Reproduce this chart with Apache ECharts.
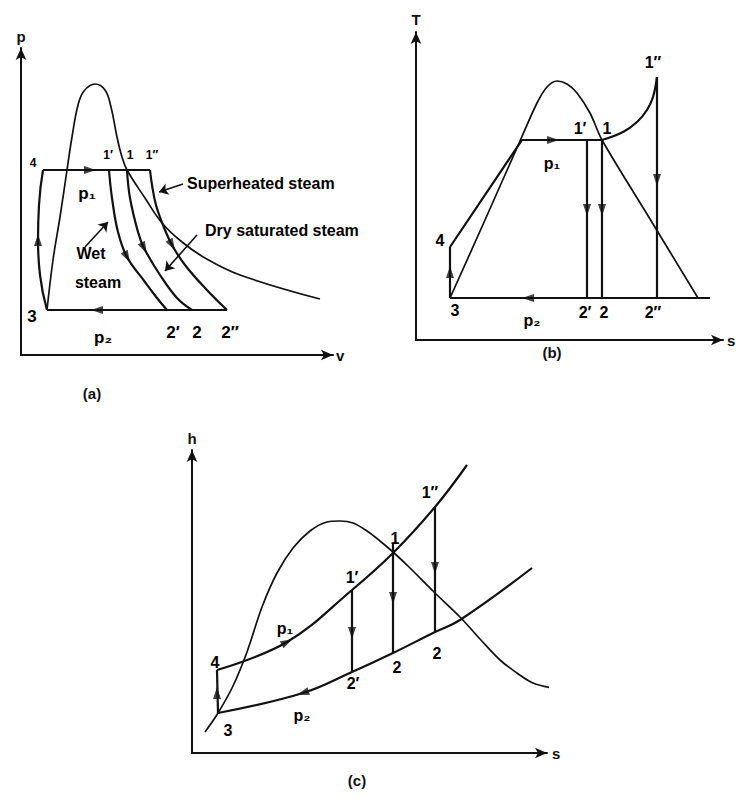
<!DOCTYPE html>
<html><head><meta charset="utf-8">
<script src="https://cdn.jsdelivr.net/npm/echarts/dist/echarts.min.js"></script>
<style>html,body{margin:0;padding:0;background:#fff}#c{width:736px;height:802px}</style>
</head><body><div id="c"></div>
<script>
// ---------- (a) p–v diagram ----------
const domeA = [[26,45],[32,95],[39,138],[46,185],[51,218],[57,250],[63,264],[74,271],[84,265],[90,248],[96,218],[101,198],[106,185],[124,157],[141,132],[161,113],[184,97],[219,80],[299,56]];
const pumpA = [[26,45],[19,80],[17,115],[18,150],[22,185]];
const boilA = [[22,185],[129,185]];
const condA = [[206,45],[26,45]];
const exp1pA = [[88,185],[91,157],[97,123],[106,98],[124,73],[136,57],[146,45]];
const exp1A = [[106,185],[109,157],[117,123],[123,107],[139,80],[156,57],[171,45]];
const exp1ppA = [[129,185],[131,170],[135,150],[142,130],[151,110],[164,90],[184,67],[206,45]];
const arrowsA = [[69,185,0],[17,115,90],[76,45,180],[106,98,-62],[123,107,-63],[151,110,-61]];
const pointersA = [[[162,171],[138,163]],[[176,120],[144,84]],[[64,108],[87,133]]];
const labelsA = [['3',11,39],['p₂',82,18],['2′',152,23],['2',176,23],['2″',209,23],['p₁',66,162]];
const smallLabelsA = [['4',12,192],['1′',87,200],['1',109,200],['1″',131,200]];
const notesA = [['Superheated steam',166,172],['Dry saturated steam',184,125]];
const wetA = [['Wet',70,102],['steam',77,73]];

// ---------- (b) T–s diagram ----------
const domeB = [[34,42],[69,120],[104,199],[121,237],[131,253],[141,259],[151,256],[161,247],[174,227],[186,200],[234,121],[282,42]];
const pumpB = [[34,42],[34,93]];
const heatB = [[34,93],[106,200],[186,200]];
const superB = [[186,200],[207,208],[221,218],[231,230],[237,243],[241,263]];
const exp1pB = [[171,200],[171,42]];
const exp1B = [[186,200],[186,42]];
const exp1ppB = [[241,263],[241,42]];
const condB = [[294,42],[34,42]];
const arrowsB = [[137,200,0],[171,130,-90],[186,130,-90],[241,160,-90],[112,42,180],[34,68,90]];
const labelsB = [['4',24,100],['3',39,30],['p₂',116,20],['2′',169,28],['2',188,28],['2″',237,28],['p₁',136,177],['1′',164,212],['1',191,212],['1″',237,278]];

// ---------- (c) h–s diagram ----------
const domeC = [[13,21],[26,40],[41,67],[55,101],[70,146],[85,180],[101,205],[118,222],[135,231],[148,232],[161,230],[175,222],[188,212],[201,201],[218,185],[243,160],[268,136],[288,114],[308,93],[325,80],[341,70],[361,65],[378,64]];
const p1C = [[25,83],[95,111],[160,163],[201,200],[243,246],[275,288]];
const p2C = [[26,40],[111,60],[160,81],[201,100],[243,121],[268,133],[340,185]];
const pumpC = [[26,40],[25,83]];
const exp1pC = [[160,163],[160,81]];
const exp1C = [[201,210],[201,100]];
const exp1ppC = [[243,246],[243,121]];
const arrowsC = [[95,111,28],[111,60,198],[160,120,-90],[201,155,-90],[243,185,-90],[25,60,90]];
const labelsC = [['4',23,91],['3',36,23],['p₁',93,125],['p₂',110,38],['1′',160,176],['1',203,215],['1″',238,261],['2′',161,70],['2',205,86],['2',245,100]];

// ---------- axes / captions ----------
const axisNames = [['v','p'],['s','T'],['s','h']];
const captions = ['(a)','(b)','(c)'];

// ---------- layout ----------
const INK = '#111';
const FONT = '"Liberation Sans", Arial, Helvetica, sans-serif';
const grids = [
  {left:21, top:48, width:312, height:307},
  {left:416, top:32, width:307, height:308},
  {left:192, top:450, width:355, height:303}
];
const nameGaps = [[3,4],[4,5],[5,4]];
const captionPos = [[92,393],[552,352],[357,780]];

function axis(i, dim) {
  const g = grids[i];
  return {
    type:'value', gridIndex:i, min:0, max: dim==='x' ? g.width : g.height,
    name: axisNames[i][dim==='x'?0:1], nameLocation:'end', nameGap: nameGaps[i][dim==='x'?0:1],
    nameTextStyle:{fontSize:15, fontFamily:FONT, color:INK, fontWeight:'bold'},
    axisLine:{show:true, onZero:false, symbol:['none','arrow'], symbolSize:[8,12], lineStyle:{color:INK, width:2}},
    axisTick:{show:false}, axisLabel:{show:false}, splitLine:{show:false}
  };
}
const series = [];
function curve(i, data, width, smooth) {
  series.push({type:'line', xAxisIndex:i, yAxisIndex:i, data:data, symbol:'none', smooth:smooth||false,
    lineStyle:{color:INK, width:width}, silent:true, z:2});
}
function arrows(i, data) {
  series.push({type:'scatter', xAxisIndex:i, yAxisIndex:i, symbol:'triangle', symbolSize:[8,12],
    itemStyle:{color:INK}, silent:true, z:4,
    data:data.map(a => ({value:[a[0],a[1]], symbolRotate:a[2]-90}))});
}
function labels(i, data, size, align) {
  series.push({type:'scatter', xAxisIndex:i, yAxisIndex:i, symbolSize:0.01, itemStyle:{color:INK, opacity:1},
    silent:true, z:5,
    label:{show:true, position: align==='left' ? 'right' : 'inside', distance:0, formatter:'{b}', fontSize:size, fontWeight:'bold',
      fontFamily:FONT, color:'#000', opacity:1, textBorderWidth:0},
    data:data.map(l => ({name:l[0], value:[l[1],l[2]]}))});
}
function pointers(i, data) {
  series.push({type:'lines', coordinateSystem:'cartesian2d', xAxisIndex:i, yAxisIndex:i,
    symbol:['none','arrow'], symbolSize:9, silent:true, z:3,
    lineStyle:{color:INK, width:1.6, opacity:1},
    data:data.map(p => ({coords:p}))});
}

// (a)
curve(0, domeA, 1.7, 0.4);
curve(0, pumpA, 2.2, 0.5);
curve(0, boilA, 2.2);
curve(0, condA, 2.2);
curve(0, exp1pA, 2.2, 0.4);
curve(0, exp1A, 2.2, 0.4);
curve(0, exp1ppA, 2.2, 0.4);
arrows(0, arrowsA);
pointers(0, pointersA);
labels(0, labelsA, 17);
labels(0, smallLabelsA, 12);
labels(0, notesA, 16, 'left');
labels(0, wetA, 16);
// (b)
curve(1, domeB, 1.7, 0.3);
curve(1, pumpB, 2.2);
curve(1, heatB, 2.2);
curve(1, superB, 2.2, 0.4);
curve(1, exp1pB, 2.2);
curve(1, exp1B, 2.2);
curve(1, exp1ppB, 2.2);
curve(1, condB, 2.2);
arrows(1, arrowsB);
labels(1, labelsB, 16);
// (c)
curve(2, domeC, 1.7, 0.35);
curve(2, p1C, 2.2, 0.4);
curve(2, p2C, 2.2, 0.4);
curve(2, pumpC, 2.2);
curve(2, exp1pC, 2.2);
curve(2, exp1C, 2.2);
curve(2, exp1ppC, 2.2);
arrows(2, arrowsC);
labels(2, labelsC, 16);

const chart = echarts.init(document.getElementById('c'), null, {renderer:'svg'});
chart.setOption({
  animation:false,
  backgroundColor:'#fff',
  grid: grids.map(g => Object.assign({containLabel:false, outerBoundsMode:'none'}, g)),
  xAxis: [0,1,2].map(i => axis(i,'x')),
  yAxis: [0,1,2].map(i => axis(i,'y')),
  graphic: captions.map((t,i) => ({type:'text', x:captionPos[i][0], y:captionPos[i][1],
    style:{text:t, fontSize:15, fontWeight:'bold', fontFamily:FONT, fill:INK,
      align:'center', verticalAlign:'middle', textAlign:'center', textVerticalAlign:'middle'}})),
  series: series
});
</script></body></html>
